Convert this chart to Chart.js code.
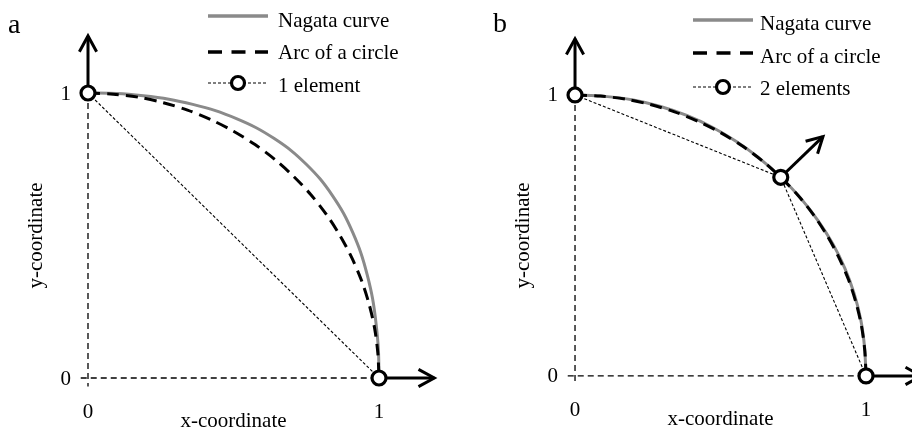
<!DOCTYPE html>
<html>
<head>
<meta charset="utf-8">
<script src="https://cdn.jsdelivr.net/npm/chart.js@4.4.1/dist/chart.umd.min.js"></script>
<style>
  html, body { margin: 0; padding: 0; background: #fff; }
  .panel { position: absolute; top: 0; width: 456px; height: 431px; }
  #panelA { left: 0; }
  #panelB { left: 456px; }
</style>
</head>
<body>
<div class="panel" id="panelA"><canvas id="chartA" width="456" height="431"></canvas></div>
<div class="panel" id="panelB"><canvas id="chartB" width="456" height="431"></canvas></div>
<script>
// legend / axis text
const seriesNames = ['Nagata curve', 'Arc of a circle'];
const elementLabels = ['1 element', '2 elements'];
const panelLetters = ['a', 'b'];
const tickValues = [0, 1];
const tickLabels = ['0', '1'];
const axisTitles = ['x-coordinate', 'y-coordinate'];

// quarter of the unit circle
const arcX = [0, 0.087, 0.174, 0.259, 0.342, 0.423, 0.5, 0.574, 0.643, 0.707, 0.766, 0.819, 0.866, 0.906, 0.940, 0.966, 0.985, 0.996, 1];
const arcY = [1, 0.996, 0.985, 0.966, 0.940, 0.906, 0.866, 0.819, 0.766, 0.707, 0.643, 0.574, 0.5, 0.423, 0.342, 0.259, 0.174, 0.087, 0];

// Nagata curve, one element
const nagata1X = [0, 0.098, 0.19, 0.278, 0.36, 0.438, 0.51, 0.578, 0.64, 0.698, 0.75, 0.798, 0.84, 0.878, 0.91, 0.938, 0.96, 0.978, 0.99, 0.998, 1];
const nagata1Y = [1, 0.998, 0.99, 0.978, 0.96, 0.938, 0.91, 0.878, 0.84, 0.798, 0.75, 0.698, 0.64, 0.578, 0.51, 0.438, 0.36, 0.278, 0.19, 0.098, 0];

// Nagata curve, two elements
const nagata2X = [0, 0.102, 0.2, 0.294, 0.384, 0.47, 0.553, 0.632, 0.707, 0.776, 0.835, 0.886, 0.927, 0.959, 0.982, 0.995, 1];
const nagata2Y = [1, 0.995, 0.982, 0.959, 0.927, 0.886, 0.835, 0.776, 0.707, 0.632, 0.553, 0.47, 0.384, 0.294, 0.2, 0.102, 0];

// element nodes
const nodes1X = [0, 1];
const nodes1Y = [1, 0];
const nodes2X = [0, 0.707, 1];
const nodes2Y = [1, 0.707, 0];

// normal vectors at the nodes (drawn as arrows)
const normals1DX = [0, 0.19];
const normals1DY = [0.2, 0];
const normals2DX = [0, 0.145, 0.19];
const normals2DY = [0.2, 0.145, 0];

const FONT = '"Liberation Serif", "Times New Roman", serif';
const GRAY = '#8a8a8a';

const pts = (xs, ys) => xs.map((x, i) => ({ x: x, y: ys[i] }));

function drawArrow(ctx, x0, y0, x1, y1) {
  const ang = Math.atan2(y1 - y0, x1 - x0);
  const len = 18, spread = 0.5;
  ctx.save();
  ctx.strokeStyle = '#000';
  ctx.lineWidth = 3;
  ctx.lineJoin = 'miter';
  ctx.beginPath();
  ctx.moveTo(x0, y0);
  ctx.lineTo(x1, y1);
  ctx.stroke();
  ctx.beginPath();
  ctx.moveTo(x1 - len * Math.cos(ang - spread), y1 - len * Math.sin(ang - spread));
  ctx.lineTo(x1, y1);
  ctx.lineTo(x1 - len * Math.cos(ang + spread), y1 - len * Math.sin(ang + spread));
  ctx.stroke();
  ctx.restore();
}

// arrows under the nodes, text and legend on top
const decor = {
  id: 'decor',
  beforeDatasetsDraw(chart, args, o) {
    const ctx = chart.ctx, xs = chart.scales.x, ys = chart.scales.y;
    o.nodesX.forEach((x, i) => {
      const y = o.nodesY[i];
      drawArrow(ctx, xs.getPixelForValue(x), ys.getPixelForValue(y),
        xs.getPixelForValue(x + o.dx[i]), ys.getPixelForValue(y + o.dy[i]));
    });
  },
  afterDraw(chart, args, o) {
    const ctx = chart.ctx, xs = chart.scales.x, ys = chart.scales.y;
    const x0 = xs.getPixelForValue(0), y0 = ys.getPixelForValue(0);
    ctx.save();
    ctx.fillStyle = '#000';
    ctx.font = '21px ' + FONT;

    // tick labels
    ctx.textAlign = 'right';
    ctx.textBaseline = 'middle';
    tickValues.forEach((v, i) => ctx.fillText(tickLabels[i], x0 - 17, ys.getPixelForValue(v) + 1));
    ctx.textAlign = 'center';
    ctx.textBaseline = 'alphabetic';
    tickValues.forEach((v, i) => ctx.fillText(tickLabels[i], xs.getPixelForValue(v), y0 + 40));

    // axis titles
    ctx.fillText(axisTitles[0], xs.getPixelForValue(0.5), y0 + 49);
    ctx.save();
    ctx.translate(x0 - 46, ys.getPixelForValue(0.5));
    ctx.rotate(-Math.PI / 2);
    ctx.fillText(axisTitles[1], 0, 0);
    ctx.restore();

    // panel letter
    ctx.textAlign = 'left';
    ctx.font = '28px ' + FONT;
    ctx.fillText(o.letter, o.letterX, o.letterY);

    // legend
    const lx = o.legendX, lw = 60, tx = o.textX;
    const rows = o.legendY, base = o.textY;
    ctx.font = '21px ' + FONT;
    ctx.lineCap = 'butt';

    ctx.strokeStyle = GRAY;
    ctx.lineWidth = 3.5;
    ctx.beginPath(); ctx.moveTo(lx, rows[0]); ctx.lineTo(lx + lw, rows[0]); ctx.stroke();
    ctx.fillText(seriesNames[0], tx, base[0]);

    ctx.strokeStyle = '#000';
    ctx.lineWidth = 3.5;
    ctx.setLineDash([14, 9.5]);
    ctx.beginPath(); ctx.moveTo(lx, rows[1]); ctx.lineTo(lx + lw, rows[1]); ctx.stroke();
    ctx.fillText(seriesNames[1], tx, base[1]);

    ctx.lineWidth = 1.1;
    ctx.setLineDash([3, 2]);
    ctx.beginPath(); ctx.moveTo(lx, rows[2]); ctx.lineTo(lx + lw, rows[2]); ctx.stroke();
    ctx.setLineDash([]);
    ctx.beginPath();
    ctx.arc(lx + lw / 2, rows[2], 6.5, 0, Math.PI * 2);
    ctx.fillStyle = '#fff';
    ctx.fill();
    ctx.lineWidth = 3.2;
    ctx.stroke();
    ctx.fillStyle = '#000';
    ctx.fillText(o.elementLabel, tx, base[2]);
    ctx.restore();
  }
};

function makePanel(id, nagX, nagY, nodX, nodY, dx, dy, range, opts) {
  return new Chart(document.getElementById(id), {
    type: 'scatter',
    data: {
      datasets: [
        {
          label: opts.elementLabel,
          data: pts(nodX, nodY),
          showLine: true,
          borderColor: '#000',
          borderWidth: 1.1,
          borderDash: [3, 2],
          pointRadius: 7,
          pointBorderWidth: 3.2,
          pointBackgroundColor: '#fff',
          pointBorderColor: '#000'
        },
        {
          label: seriesNames[1],
          data: pts(arcX, arcY),
          showLine: true,
          borderColor: '#000',
          borderWidth: 3,
          borderDash: [12, 7],
          tension: 0.3,
          pointRadius: 0
        },
        {
          label: seriesNames[0],
          data: pts(nagX, nagY),
          showLine: true,
          borderColor: GRAY,
          borderWidth: 3,
          tension: 0.3,
          pointRadius: 0
        },
        {
          label: 'y axis',
          data: [{ x: 0, y: 1 }, { x: 0, y: -0.03 }],
          showLine: true,
          borderColor: '#000',
          borderWidth: 1.3,
          borderDash: [6, 4],
          pointRadius: 0
        },
        {
          label: 'x axis',
          data: [{ x: -0.025, y: 0 }, { x: 1, y: 0 }],
          showLine: true,
          borderColor: '#000',
          borderWidth: 1.3,
          borderDash: [6, 4],
          pointRadius: 0
        }
      ]
    },
    options: {
      responsive: false,
      animation: false,
      events: [],
      layout: { padding: 0, autoPadding: false },
      scales: {
        x: { type: 'linear', min: range[0], max: range[1], display: false },
        y: { type: 'linear', min: range[2], max: range[3], display: false }
      },
      plugins: {
        legend: { display: false },
        tooltip: { enabled: false },
        decor: Object.assign({ nodesX: nodX, nodesY: nodY, dx: dx, dy: dy }, opts)
      }
    },
    plugins: [decor]
  });
}

makePanel('chartA', nagata1X, nagata1Y, nodes1X, nodes1Y, normals1DX, normals1DY,
  [-0.3024, 1.2646, -0.186, 1.3263],
  { letter: panelLetters[0], letterX: 8, letterY: 33, legendX: 208, textX: 278,
    legendY: [16, 52, 83], textY: [27, 59, 92], elementLabel: elementLabels[0] });

makePanel('chartB', nagata2X, nagata2Y, nodes2X, nodes2Y, normals2DX, normals2DY,
  [-0.409, 1.158, -0.196, 1.338],
  { letter: panelLetters[1], letterX: 37, letterY: 32, legendX: 237, textX: 304,
    legendY: [20, 53, 87], textY: [30, 63, 95], elementLabel: elementLabels[1] });
</script>
</body>
</html>
